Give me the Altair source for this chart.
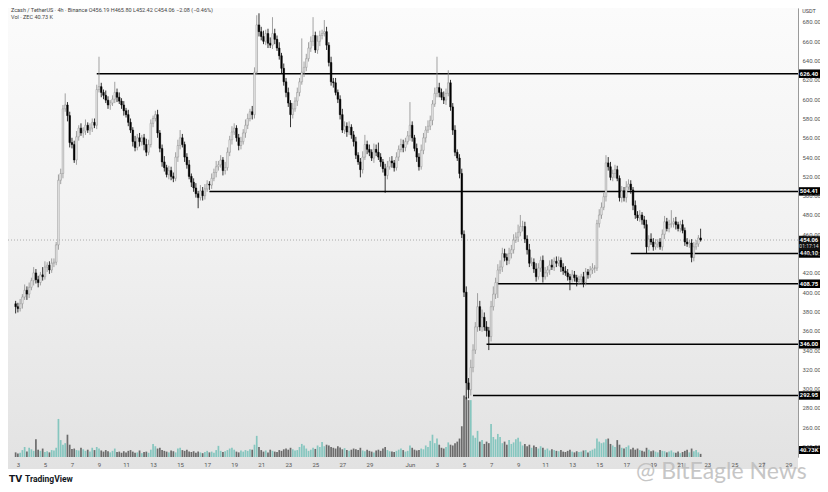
import altair as alt
import pandas as pd

# ---------------- data (4h candles, ZEC/USDT) ----------------
first_open = 388.0
closes = [
    385, 383, 388, 395, 402, 398, 405, 412, 420, 413,
    410, 418, 416, 426, 428, 423, 430, 431, 449, 516,
    523, 590, 594, 583, 555, 553, 537, 561, 570, 565,
    567, 573, 568, 570, 576, 573, 610, 613, 607, 604,
    599, 594, 596, 600, 607, 602, 598, 594, 588, 584,
    576, 568, 556, 550, 560, 556, 560, 553, 545, 553,
    575, 580, 584, 565, 549, 535, 529, 522, 526, 520,
    518, 540, 552, 560, 553, 540, 532, 520, 514, 508,
    502, 498, 505, 500, 507, 512, 511, 518, 524, 530,
    532, 537, 526, 529, 545, 558, 566, 570, 560, 552,
    556, 565, 573, 580, 587, 584, 628, 677, 670, 665,
    660, 668, 658, 656, 668, 662, 653, 645, 632, 618,
    607, 596, 584, 590, 598, 607, 618, 628, 633, 642,
    653, 660, 666, 651, 660, 666, 668, 670, 656, 638,
    618, 617, 607, 600, 584, 568, 572, 566, 571, 563,
    556, 542, 535, 527, 540, 553, 548, 545, 539, 548,
    545, 540, 535, 528, 521, 530, 536, 534, 529, 540,
    548, 553, 550, 556, 562, 573, 560, 549, 540, 530,
    547, 560, 568, 572, 578, 595, 606, 612, 607, 602,
    599, 606, 617, 592, 568, 545, 539, 523, 460, 400,
    306, 299, 322, 340, 364, 385, 364, 374, 364, 360,
    354, 385, 398, 410, 423, 426, 440, 436, 433, 440,
    444, 454, 457, 462, 468, 468, 455, 444, 430, 431,
    424, 416, 425, 433, 416, 420, 423, 428, 426, 432,
    430, 433, 426, 422, 420, 416, 413, 418, 415, 411,
    413, 416, 410, 421, 418, 423, 425, 425, 471, 480,
    488, 499, 534, 530, 519, 523, 527, 518, 498, 505,
    498, 509, 512, 506, 490, 480, 477, 480, 475, 470,
    447, 455, 452, 447, 450, 452, 447, 460, 473, 466,
    470, 471, 473, 470, 466, 470, 464, 452, 450, 451,
    436, 447, 450, 456.19, 454.06,
]
upper_wick = [
    3, 4, 5, 3, 6, 4, 5, 3, 6, 4,
    4, 3, 8, 6, 3, 4, 5, 4, 3, 6,
    5, 4, 12, 3, 4, 5, 4, 6, 3, 5,
    4, 6, 3, 5, 4, 4, 5, 31, 4, 3,
    5, 4, 3, 4, 11, 4, 5, 3, 4, 3,
    5, 4, 3, 6, 4, 5, 3, 4, 6, 5,
    4, 3, 4, 5, 3, 4, 6, 3, 5, 4,
    4, 5, 6, 8, 4, 3, 4, 5, 3, 4,
    5, 3, 6, 4, 5, 4, 3, 5, 4, 6,
    4, 5, 3, 6, 5, 4, 6, 5, 3, 4,
    5, 4, 6, 5, 3, 6, 5, 10, 12, 5,
    6, 4, 5, 6, 17, 5, 4, 6, 3, 5,
    4, 5, 3, 6, 4, 5, 4, 35, 6, 5,
    6, 5, 19, 4, 6, 5, 4, 12, 5, 3,
    6, 4, 5, 3, 4, 6, 5, 4, 6, 3,
    4, 5, 3, 4, 6, 10, 4, 5, 3, 6,
    5, 10, 4, 3, 5, 6, 4, 5, 3, 5,
    4, 6, 5, 4, 5, 24, 4, 3, 5, 4,
    6, 5, 4, 6, 5, 4, 6, 32, 5, 4,
    6, 5, 13, 3, 4, 5, 3, 4, 5, 4,
    6, 5, 8, 6, 5, 14, 6, 8, 5, 6,
    4, 6, 8, 5, 6, 7, 6, 5, 4, 6,
    5, 6, 5, 8, 12, 6, 5, 4, 6, 5,
    4, 6, 5, 4, 5, 6, 4, 5, 6, 4,
    5, 4, 3, 4, 5, 4, 3, 5, 4, 3,
    4, 3, 5, 4, 3, 4, 5, 3, 4, 6,
    5, 4, 8, 6, 5, 4, 5, 4, 3, 5,
    4, 6, 5, 4, 3, 5, 4, 5, 3, 4,
    5, 4, 6, 4, 5, 3, 4, 5, 6, 4,
    5, 14, 4, 5, 3, 4, 5, 3, 4, 3,
    4, 5, 4, 3, 9.61,
]
lower_wick = [
    7, 4, 3, 5, 3, 6, 4, 3, 5, 4,
    5, 3, 4, 3, 5, 4, 3, 4, 3, 5,
    4, 5, 3, 6, 5, 4, 3, 5, 4, 3,
    5, 4, 3, 5, 4, 3, 4, 3, 5, 4,
    3, 4, 5, 3, 4, 5, 3, 4, 5, 3,
    4, 3, 5, 4, 3, 5, 4, 6, 4, 3,
    3, 4, 3, 5, 4, 5, 4, 3, 5, 4,
    4, 3, 5, 4, 3, 5, 4, 3, 5, 4,
    4, 11, 3, 5, 4, 3, 5, 4, 3, 5,
    4, 3, 5, 4, 3, 4, 5, 3, 4, 5,
    4, 3, 5, 4, 3, 5, 4, 3, 5, 4,
    3, 4, 5, 3, 4, 5, 3, 4, 5, 4,
    5, 4, 13, 4, 3, 5, 4, 3, 5, 4,
    3, 4, 5, 3, 4, 5, 4, 3, 5, 4,
    4, 5, 3, 4, 5, 3, 4, 5, 3, 4,
    5, 4, 3, 8, 4, 3, 5, 4, 3, 5,
    4, 3, 5, 4, 18, 4, 3, 5, 4, 3,
    4, 3, 5, 4, 3, 5, 4, 3, 5, 4,
    3, 4, 5, 3, 4, 5, 3, 4, 5, 3,
    4, 5, 3, 4, 5, 4, 3, 5, 4, 5,
    17, 9, 6, 5, 4, 5, 4, 5, 4, 6,
    14, 5, 4, 5, 16, 4, 5, 4, 5, 4,
    5, 4, 3, 5, 4, 5, 4, 5, 4, 3,
    4, 5, 3, 4, 6, 3, 4, 5, 3, 4,
    4, 3, 5, 4, 3, 4, 11, 3, 4, 5,
    3, 4, 5, 3, 4, 3, 4, 5, 3, 4,
    4, 3, 5, 4, 3, 4, 5, 3, 4, 5,
    4, 5, 3, 4, 5, 4, 3, 4, 5, 4,
    7, 4, 3, 4, 3, 4, 3, 4, 5, 3,
    4, 3, 4, 5, 3, 4, 3, 4, 3, 4,
    5, 4, 3, 3, 1.64,
]
volume_k = [
    60, 45, 55, 90, 130, 70, 120, 100, 80, 230,
    95, 80, 110, 65, 75, 60, 90, 85, 120, 495,
    220, 160, 180, 290, 160, 105, 110, 90, 85, 120,
    100, 80, 95, 70, 120, 90, 130, 110, 85, 70,
    90, 75, 60, 80, 110, 65, 70, 55, 75, 60,
    80, 90, 70, 55, 60, 85, 50, 65, 70, 55,
    95, 170, 140, 110, 120, 90, 80, 70, 60, 85,
    75, 60, 110, 120, 90, 80, 95, 70, 65, 75,
    55, 70, 60, 50, 65, 80, 60, 70, 55, 90,
    145, 80, 65, 75, 90, 110, 120, 95, 70, 60,
    85, 70, 90, 80, 100, 95, 160, 275, 130, 90,
    70, 85, 60, 95, 80, 70, 65, 90, 80, 100,
    110, 95, 120, 100, 85, 90, 130, 170, 150, 110,
    80, 95, 120, 105, 150, 130, 195, 140, 160, 150,
    130, 120, 110, 140, 125, 100, 115, 90, 80, 95,
    110, 100, 90, 120, 85, 75, 95, 80, 70, 60,
    85, 95, 80, 110, 130, 90, 75, 70, 65, 80,
    95, 110, 90, 70, 80, 150, 120, 95, 85, 90,
    110, 100, 150, 130, 210, 290, 180, 240, 160, 120,
    110, 130, 190, 160, 150, 180, 200, 240, 400, 800,
    780, 740, 740, 280, 250, 340, 200, 220, 170, 200,
    180, 430, 260, 230, 300, 260, 180, 200, 160, 220,
    170, 190, 230, 250, 200, 150, 170, 140, 160, 120,
    150, 130, 110, 140, 120, 95, 110, 85, 100, 90,
    80, 75, 90, 70, 65, 80, 95, 70, 60, 75,
    65, 70, 85, 90, 60, 80, 95, 110, 240, 200,
    180, 190, 230, 240, 170, 150, 130, 220, 160, 120,
    110, 130, 150, 100, 120, 95, 110, 90, 80, 70,
    120, 95, 75, 85, 70, 60, 90, 80, 75, 60,
    70, 85, 60, 55, 70, 50, 65, 80, 95, 60,
    110, 75, 90, 60, 40.73,
]
assert len(closes) == len(upper_wick) == len(lower_wick) == len(volume_k) == 305

first_candle = "2026-05-02T20:00:00Z"

level_prices = [626.40, 504.41, 440.10, 408.75, 346.00, 292.95]
level_starts = ["2026-05-08T20:00:00Z", "2026-05-17T04:00:00Z", "2026-06-17T08:00:00Z",
                "2026-06-07T12:00:00Z", "2026-06-06T16:00:00Z", "2026-06-05T16:00:00Z"]

price_ticks = [240, 260, 280, 300, 320, 340, 360, 380, 400, 420, 440, 460,
               480, 500, 520, 540, 560, 580, 600, 620, 640, 660, 680]
tick_month = [5] * 14 + [6] * 15
tick_day = [3, 5, 7, 9, 11, 13, 15, 17, 19, 21, 23, 25, 27, 29,
            1, 3, 5, 7, 9, 11, 13, 15, 17, 19, 21, 23, 25, 27, 29]

symbol_text = "Zcash / TetherUS · 4h · Binance"
change_text = "−2.08 (−0.46%)"
countdown_text = "01:17:14"

# ---------------- table ----------------
t0 = pd.Timestamp(first_candle)
times = [(t0 + pd.Timedelta(hours=4 * i)).strftime("%Y-%m-%dT%H:%M:%SZ") for i in range(len(closes))]
opens = [first_open] + closes[:-1]
highs = [max(o, c) + u for o, c, u in zip(opens, closes, upper_wick)]
lows = [min(o, c) - d for o, c, d in zip(opens, closes, lower_wick)]
df = pd.DataFrame({"t": times, "o": opens, "c": closes, "h": highs, "l": lows, "v": volume_k})

levels = pd.DataFrame({"p": level_prices, "t": level_starts,
                       "label": [f"{p:.2f}" for p in level_prices]})
last = pd.DataFrame({"p": [closes[-1]], "label": [f"{closes[-1]:.2f}"], "cd": [countdown_text]})

W, H = 790, 449
FONT = "Roboto"
x_scale = alt.Scale(type="utc",
                    domain=[alt.DateTime(year=2026, month=5, date=2, hours=15, minutes=20, utc=True),
                            alt.DateTime(year=2026, month=6, date=29, hours=8, utc=True)])
y_scale = alt.Scale(domain=[229.2, 694.5], nice=False, zero=False)

x_axis = alt.Axis(values=[alt.DateTime(year=2026, month=m, date=d, utc=True)
                          for m, d in zip(tick_month, tick_day)],
                  labelExpr="utcdate(datum.value) == 1 ? 'Jun' : utcFormat(datum.value, '%-d')",
                  title=None, domain=False, ticks=False, grid=False, labelFontSize=6,
                  labelColor="#555", labelPadding=4, labelFont=FONT, zindex=3,
                  labelOverlap=False, labelFlush=False, labelBound=False)
y_axis = alt.Axis(values=price_ticks, format=".2f", orient="right", title=None,
                  ticks=False, grid=False, labelFontSize=6, labelColor="#555",
                  labelPadding=4, domainColor="#9a9a9a", labelFont=FONT, zindex=2)

is_up = "datum.c >= datum.o"
X = alt.X("t:T", scale=x_scale, axis=x_axis)

base = alt.Chart(df)

# background gradient
bg = alt.Chart(pd.DataFrame({"a": [0]})).mark_rect(
    fill=alt.LinearGradient(gradient="linear", x1=0, x2=0, y1=0, y2=1,
                            stops=[alt.GradientStop(color="#fbfbfb", offset=0),
                                   alt.GradientStop(color="#f1f1f1", offset=0.5),
                                   alt.GradientStop(color="#e2e2e2", offset=1)])
).encode(x=alt.value(0), x2=alt.value(W), y=alt.value(0), y2=alt.value(H + 12))

volume = base.mark_bar(width=1.7).encode(
    x=X,
    y=alt.Y("v:Q", scale=alt.Scale(domain=[0, 5840]), axis=None),
    color=alt.condition(is_up, alt.value("#86c6bf"), alt.value("#6b6b6b")),
)

wicks = base.mark_rule(strokeWidth=0.8).encode(
    x=X, y=alt.Y("l:Q", scale=y_scale, axis=y_axis), y2="h:Q",
    color=alt.condition(is_up, alt.value("#8c8c8c"), alt.value("#000000")),
)
bodies = base.mark_bar(width=1.6, strokeWidth=0.5).encode(
    x=X, y=alt.Y("o:Q", scale=y_scale, axis=y_axis), y2="c:Q",
    fill=alt.condition(is_up, alt.value("#efefef"), alt.value("#000000")),
    stroke=alt.condition(is_up, alt.value("#8c8c8c"), alt.value("#000000")),
)

cur_line = alt.Chart(last).mark_rule(strokeDash=[1, 2], strokeWidth=0.8, color="#9a9a9a").encode(
    x=alt.value(0), x2=alt.value(W), y=alt.Y("p:Q", scale=y_scale, axis=y_axis))

lvl = alt.Chart(levels)
lines = lvl.mark_rule(strokeWidth=1.6, color="#000000").encode(
    x=X, x2=alt.value(W), y=alt.Y("p:Q", scale=y_scale, axis=y_axis))
tags = lvl.transform_calculate(hi="datum.p + 4.4", lo="datum.p - 4.4").mark_rect(color="#000000").encode(
    x=alt.value(W), x2=alt.value(W + 22), y=alt.Y("hi:Q", scale=y_scale, axis=y_axis), y2="lo:Q")
tag_text = lvl.mark_text(color="white", fontSize=5.8, fontWeight="bold", font=FONT,
                         align="center", baseline="middle").encode(
    x=alt.value(W + 11), y=alt.Y("p:Q", scale=y_scale, axis=y_axis), text="label:N")

cur = alt.Chart(last)
cur_tag = cur.transform_calculate(hi="datum.p + 4.4", lo="datum.p - 11").mark_rect(color="#111111").encode(
    x=alt.value(W), x2=alt.value(W + 22), y=alt.Y("hi:Q", scale=y_scale, axis=y_axis), y2="lo:Q")
cur_text = cur.mark_text(color="white", fontSize=5.8, fontWeight="bold", font=FONT,
                         align="center", baseline="middle").encode(
    x=alt.value(W + 11), y=alt.Y("p:Q", scale=y_scale, axis=y_axis), text="label:N")
cur_cd = cur.transform_calculate(p2="datum.p - 6.6").mark_text(
    color="#dddddd", fontSize=5, font=FONT, align="center", baseline="middle").encode(
    x=alt.value(W + 11), y=alt.Y("p2:Q", scale=y_scale, axis=y_axis), text="cd:N")

vol_tag_df = pd.DataFrame({"label": [f"{volume_k[-1]:.2f}K"]})
vol_tag = alt.Chart(vol_tag_df).mark_rect(color="#000000").encode(
    x=alt.value(W), x2=alt.value(W + 22), y=alt.value(H - 11), y2=alt.value(H - 3))
vol_tag_text = alt.Chart(vol_tag_df).mark_text(color="white", fontSize=5.8, fontWeight="bold",
                                               font=FONT, align="center", baseline="middle").encode(
    x=alt.value(W + 11), y=alt.value(H - 7), text="label:N")

header_df = pd.DataFrame({
    "line": [f"{symbol_text}   O{opens[-1]:.2f}  H{highs[-1]:.2f}  L{lows[-1]:.2f}  C{closes[-1]:.2f}  {change_text}",
             f"Vol · ZEC   {volume_k[-1]:.2f} K"],
    "yy": [0, 1]})
header = alt.Chart(header_df).mark_text(align="left", baseline="top", fontSize=5.5, color="#444",
                                        font=FONT).encode(
    x=alt.value(3), y=alt.Y("yy:Q", scale=alt.Scale(domain=[0, 1], range=[0, 7]), axis=None),
    text="line:N")

misc_df = pd.DataFrame({"txt": ["USDT"]})
usdt = alt.Chart(misc_df).mark_text(align="center", baseline="top", fontSize=5.5, color="#444",
                                    font=FONT).encode(x=alt.value(W + 11), y=alt.value(1), text="txt:N")

logo_df = pd.DataFrame({"a": ["TV"], "b": ["TradingView"], "c": ["@ BitEagle News"]})
logo1 = alt.Chart(logo_df).mark_text(align="left", baseline="middle", fontSize=9, fontWeight=900,
                                     color="#131722", font="DejaVu Sans").encode(
    x=alt.value(1), y=alt.value(471), text="a:N")
logo2 = alt.Chart(logo_df).mark_text(align="left", baseline="middle", fontSize=8.5, fontWeight="bold",
                                     color="#131722", font=FONT).encode(
    x=alt.value(17), y=alt.value(471), text="b:N")
water = alt.Chart(logo_df).mark_text(align="left", baseline="alphabetic", fontSize=23, color="#bdbdbd",
                                     opacity=0.85, font="Lato").encode(
    x=alt.value(628), y=alt.value(471), text="c:N")

price_layer = alt.layer(cur_line, lines, wicks, bodies, tags, tag_text, cur_tag, cur_text, cur_cd)

chart = alt.layer(
    bg, volume, price_layer, vol_tag, vol_tag_text, header, usdt, logo1, logo2, water
).resolve_scale(y="independent").properties(
    width=W, height=H,
    autosize=alt.AutoSizeParams(type="none"),
    padding={"left": 0, "top": 0, "right": 22, "bottom": 27},
).configure_view(stroke=None).configure(background="white")

chart.save("out.html", embed_options={"renderer": "svg", "actions": False})
